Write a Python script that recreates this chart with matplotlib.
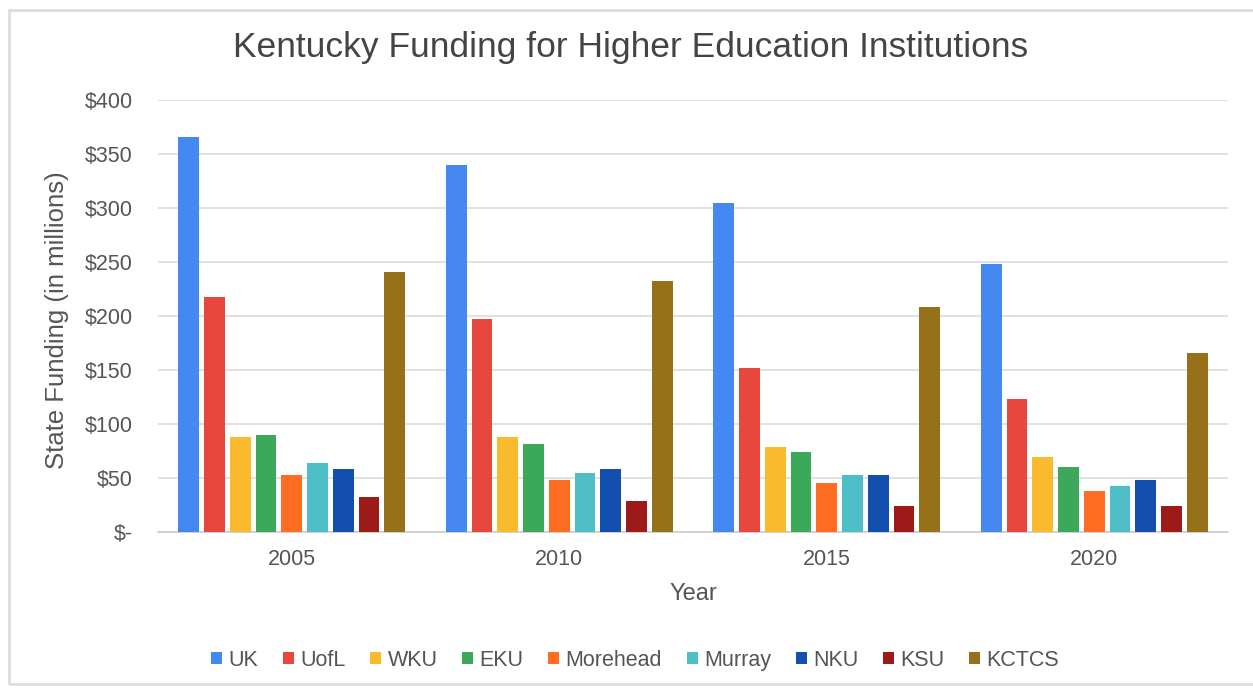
import numpy as np
import matplotlib
matplotlib.use("Agg")
import matplotlib.pyplot as plt
from matplotlib.patches import Rectangle

plt.rcParams['font.family'] = ['Liberation Sans', 'DejaVu Sans']

years = ['2005', '2010', '2015', '2020']
schools = ['UK', 'UofL', 'WKU', 'EKU', 'Morehead', 'Murray', 'NKU', 'KSU', 'KCTCS']

# state funding, $ millions
uk = [366, 340, 305, 248]
uofl = [218, 197, 152, 123]
wku = [88, 88, 79, 69]
eku = [90, 81, 74, 60]
morehead = [53, 48, 45, 38]
murray = [64, 55, 53, 43]
nku = [58, 58, 53, 48]
ksu = [32, 29, 24, 24]
kctcs = [241, 232, 208, 166]

colors = ['#4688f1', '#e8473e', '#f9bb2d', '#3ca85a', '#fd6c21',
          '#4dbec6', '#124fae', '#9c1b18', '#97711a']

series = [uk, uofl, wku, eku, morehead, murray, nku, ksu, kctcs]

fig = plt.figure(figsize=(12.53, 6.89), dpi=100)
ax = fig.add_axes([0.1261, 0.2279, 0.8539, 0.627])

x = np.arange(len(years))
pitch = 0.0963
width = 0.0776
n = len(schools)
for i, (name, vals) in enumerate(zip(schools, series)):
    offs = (i - (n - 1) / 2) * pitch
    ax.bar(x + offs, vals, width=width, color=colors[i], label=name, zorder=3)

ax.set_xlim(-0.5, 3.5)
ax.set_ylim(0, 400)
ax.set_yticks(np.arange(0, 401, 50))
ax.set_yticklabels(['$-'] + ['$%d' % v for v in range(50, 401, 50)])
ax.set_xticks(x)
ax.set_xticklabels(years)
ax.tick_params(axis='both', length=0, labelsize=15.5, labelcolor='#555555')
ax.tick_params(axis='y', pad=18)
ax.tick_params(axis='x', pad=12)

ax.grid(axis='y', color='#dcdcdc', linewidth=1.2, zorder=0)
for s in ['top', 'right', 'left']:
    ax.spines[s].set_visible(False)
ax.spines['bottom'].set_color('#cccccc')
ax.spines['bottom'].set_linewidth(1.2)

ax.set_xlabel('Year', fontsize=17, color='#555555')
ax.xaxis.set_label_coords(0.5, -0.118)
ax.set_ylabel('State Funding (in millions)', fontsize=18.5, color='#555555')
ax.yaxis.set_label_coords(-0.083, 0.49)

fig.text(0.503, 0.931, 'Kentucky Funding for Higher Education Institutions',
         ha='center', va='center', fontsize=25.5, color='#444444')

leg = fig.legend(loc='center', bbox_to_anchor=(0.507, 0.042), ncol=n, frameon=False,
                 fontsize=15.5, handlelength=0.5, handleheight=0.5, handletextpad=0.3,
                 columnspacing=1.15)
for t in leg.get_texts():
    t.set_color('#555555')

fig.patches.append(Rectangle((9 / 1253, 1 - 684 / 689), 1.0, (684 - 10) / 689,
                             transform=fig.transFigure, fill=False,
                             edgecolor='#dddddd', linewidth=2))

fig.savefig('out.png', dpi=100)
